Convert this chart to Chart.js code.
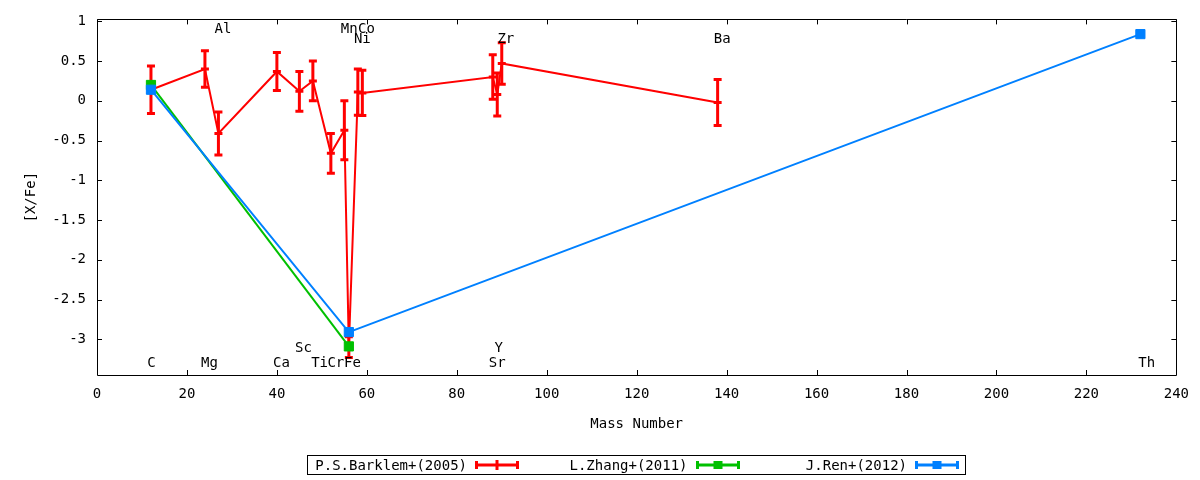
<!DOCTYPE html>
<html><head><meta charset="utf-8">
<script src="https://cdn.jsdelivr.net/npm/chart.js@4/dist/chart.umd.min.js"></script>
<style>
html,body{margin:0;padding:0;background:#fff;}
#wrap{position:relative;width:1200px;height:480px;}
canvas{display:block;}
#legend{position:absolute;left:307px;top:455px;width:657px;height:18px;border:1px solid #000;font:14px "DejaVu Sans Mono",monospace;color:#000;}
.lt{position:absolute;top:0;width:159px;line-height:18px;text-align:right;white-space:nowrap;}
.ls{position:absolute;top:1px;}
</style></head>
<body><div id="wrap"><canvas id="c" width="1200" height="480"></canvas><div id="legend"></div></div>
<script>
// ---- data ----
const massBarklem = [12, 24, 27, 40, 45, 48, 52, 55, 56, 58, 59, 88, 89, 90, 138];
const xfeBarklem  = [0.14, 0.40, -0.41, 0.37, 0.12, 0.25, -0.66, -0.37, -3.10, 0.11, 0.10, 0.30, 0.08, 0.47, -0.02];
const errBarklem  = [0.30, 0.23, 0.27, 0.24, 0.25, 0.25, 0.25, 0.37, 0.13, 0.29, 0.285, 0.28, 0.27, 0.26, 0.29];
const massZhang = [12, 56];
const xfeZhang  = [0.20, -3.09];
const massRen = [12, 56, 232];
const xfeRen  = [0.14, -2.91, 0.84];
const seriesNames = ['P.S.Barklem+(2005)', 'L.Zhang+(2011)', 'J.Ren+(2012)'];
const seriesColors = ['#ff0000', '#00c000', '#0080ff'];
const xTicks = [0, 20, 40, 60, 80, 100, 120, 140, 160, 180, 200, 220, 240];
const yTicks = [1, 0.5, 0, -0.5, -1, -1.5, -2, -2.5, -3];
const elementNames  = ['C', 'Mg', 'Ca', 'Sc', 'Ti', 'Cr', 'Fe', 'Y', 'Sr', 'Th', 'Al', 'Mn', 'Co', 'Ni', 'Zr', 'Ba'];
const elementLabelX = [12.1, 25, 41, 45.9, 49.5, 53.1, 56.8, 89.3, 89, 233.4, 28, 56.1, 59.9, 59, 90.9, 139];
const elementLabelY = [-3.3, -3.3, -3.3, -3.11, -3.3, -3.3, -3.3, -3.11, -3.3, -3.3, 0.9, 0.9, 0.9, 0.78, 0.78, 0.78];

const FONT = {family: '"DejaVu Sans Mono", monospace', size: 14};
Chart.defaults.color = '#000';
Chart.defaults.font = Object.assign({}, Chart.defaults.font, FONT);

const pts = (xs, ys) => xs.map((m, i) => ({x: m, y: ys[i]}));

const errorBarPlugin = {
  id: 'errorBars',
  afterDatasetDraw(chart, args) {
    const ds = chart.data.datasets[args.index];
    if (!ds.errors) return;
    const {ctx, scales: {x, y}} = chart;
    ctx.save();
    ctx.strokeStyle = ds.borderColor;
    ctx.lineWidth = 3;
    ds.data.forEach((p, i) => {
      const px = x.getPixelForValue(p.x);
      const yt = y.getPixelForValue(p.y + ds.errors[i]);
      const yb = y.getPixelForValue(p.y - ds.errors[i]);
      ctx.beginPath();
      ctx.moveTo(px, yt); ctx.lineTo(px, yb);
      ctx.moveTo(px - 4, yt); ctx.lineTo(px + 4, yt);
      ctx.moveTo(px - 4, yb); ctx.lineTo(px + 4, yb);
      ctx.stroke();
    });
    ctx.restore();
  }
};

const framePlugin = {
  id: 'frame',
  afterDraw(chart) {
    const {ctx, chartArea: a, scales: {x, y}} = chart;
    ctx.save();
    ctx.strokeStyle = '#000';
    ctx.lineWidth = 1;
    ctx.beginPath();
    ctx.rect(Math.round(a.left) + 0.5, Math.round(a.top) + 0.5, Math.round(a.right - a.left), Math.round(a.bottom - a.top));
    xTicks.forEach(v => {
      const px = Math.round(x.getPixelForValue(v)) + 0.5;
      ctx.moveTo(px, a.bottom); ctx.lineTo(px, a.bottom - 5);
      ctx.moveTo(px, a.top); ctx.lineTo(px, a.top + 5);
    });
    yTicks.forEach(v => {
      const py = Math.round(y.getPixelForValue(v)) + 0.5;
      ctx.moveTo(a.left, py); ctx.lineTo(a.left + 5, py);
      ctx.moveTo(a.right, py); ctx.lineTo(a.right - 5, py);
    });
    ctx.stroke();
    ctx.restore();
  }
};

const labelPlugin = {
  id: 'elementLabels',
  afterDatasetsDraw(chart) {
    const {ctx, scales: {x, y}} = chart;
    ctx.save();
    ctx.fillStyle = '#000';
    ctx.font = '14px "DejaVu Sans Mono", monospace';
    ctx.textAlign = 'center';
    ctx.textBaseline = 'middle';
    elementNames.forEach((n, i) => {
      ctx.fillText(n, x.getPixelForValue(elementLabelX[i]), y.getPixelForValue(elementLabelY[i]));
    });
    ctx.restore();
  }
};

new Chart(document.getElementById('c'), {
  type: 'scatter',
  data: {
    datasets: [
      {label: seriesNames[2], data: pts(massRen, xfeRen), showLine: true, order: 0,
       borderColor: seriesColors[2], backgroundColor: seriesColors[2], borderWidth: 2,
       pointStyle: 'rect', pointRadius: 6.5, pointBorderWidth: 1},
      {label: seriesNames[1], data: pts(massZhang, xfeZhang), showLine: true, order: 1,
       borderColor: seriesColors[1], backgroundColor: seriesColors[1], borderWidth: 2,
       pointStyle: 'rect', pointRadius: 6.5, pointBorderWidth: 1},
      {label: seriesNames[0], data: pts(massBarklem, xfeBarklem), errors: errBarklem, showLine: true, order: 2,
       borderColor: seriesColors[0], backgroundColor: seriesColors[0], borderWidth: 2,
       pointStyle: 'line', pointRadius: 4, pointBorderWidth: 3}
    ]
  },
  options: {
    responsive: false, animation: false, devicePixelRatio: 1,
    layout: {padding: {left: 0, right: 23, top: 18, bottom: 47}},
    plugins: {legend: {display: false}, tooltip: {enabled: false}},
    elements: {line: {tension: 0}},
    scales: {
      x: {
        type: 'linear', min: 0, max: 240,
        grid: {display: false, drawTicks: false}, border: {display: false},
        ticks: {padding: 11, color: '#000', font: FONT, maxRotation: 0, callback: v => String(v)},
        afterBuildTicks: s => { s.ticks = xTicks.map(v => ({value: v})); },
        afterFit: s => { s.height = 58; },
        title: {display: true, text: 'Mass Number', color: '#000', font: FONT, padding: {top: 0, bottom: 0}}
      },
      y: {
        type: 'linear', min: -3.45, max: 1.025,
        grid: {display: false, drawTicks: false}, border: {display: false},
        ticks: {padding: 11, color: '#000', font: FONT, callback: v => String(v)},
        afterBuildTicks: s => { s.ticks = yTicks.map(v => ({value: v})); },
        afterFit: s => { s.width = 97; },
        title: {display: true, text: '[X/Fe]', color: '#000', font: FONT, padding: {top: 23, bottom: 0}}
      }
    }
  },
  plugins: [errorBarPlugin, labelPlugin, framePlugin]
});

// ---- legend (HTML) ----
const legend = document.getElementById('legend');
const colLeft = [0, 220.5, 440];
seriesNames.forEach((name, i) => {
  const t = document.createElement('span');
  t.className = 'lt';
  t.style.left = colLeft[i] + 'px';
  t.textContent = name;
  legend.appendChild(t);
  const c = seriesColors[i];
  const marker = i === 0
    ? `<line x1="22" y1="3" x2="22" y2="13" stroke="${c}" stroke-width="3"/>`
    : `<rect x="17.5" y="4" width="9" height="8" fill="${c}"/>`;
  const svg = `<svg class="ls" style="left:${colLeft[i] + 167}px" width="46" height="16" xmlns="http://www.w3.org/2000/svg">
    <line x1="0" y1="8" x2="44" y2="8" stroke="${c}" stroke-width="3"/>
    <line x1="1.5" y1="4" x2="1.5" y2="12" stroke="${c}" stroke-width="3"/>
    <line x1="42.5" y1="4" x2="42.5" y2="12" stroke="${c}" stroke-width="3"/>
    ${marker}</svg>`;
  legend.insertAdjacentHTML('beforeend', svg);
});
</script>
</body></html>
